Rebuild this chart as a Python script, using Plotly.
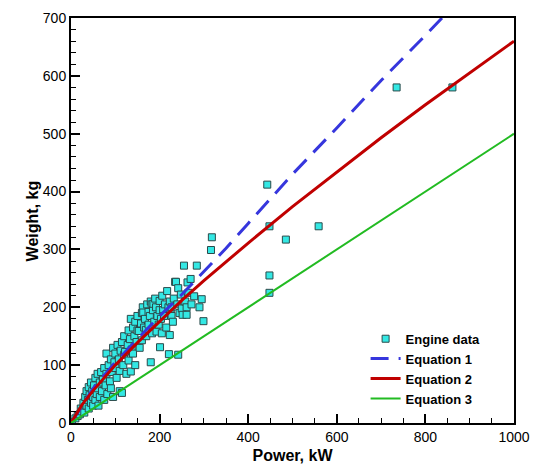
import plotly.graph_objects as go

# Engine data (Power kW, Weight kg)
power = [2, 10, 15, 20, 22, 25, 28, 30, 32, 35, 35, 38, 40, 40, 42, 45, 45, 48, 50, 50,
         52, 55, 55, 58, 60, 60, 62, 65, 65, 68, 70, 72, 75, 75, 78, 80, 80, 82, 85, 88,
         90, 90, 92, 95, 95, 98, 100, 100, 103, 105, 108, 110, 110, 112, 115, 115, 118, 120, 120, 122,
         125, 128, 130, 130, 133, 135, 135, 137, 140, 140, 143, 145, 145, 148, 150, 150, 153, 155, 158, 160,
         160, 162, 163, 165, 167, 169, 170, 172, 175, 175, 178, 180, 180, 182, 183, 185, 186, 188, 190, 192,
         193, 195, 198, 200, 200, 201, 203, 205, 206, 208, 210, 212, 215, 217, 220, 221, 223, 223, 225, 227,
         227, 230, 232, 235, 237, 240, 242, 242, 245, 248, 250, 252, 255, 258, 261, 261, 263, 265, 270, 272,
         278, 284, 290, 295, 299, 316, 318,
         443, 448, 448, 448, 485, 559, 735, 861]
weight = [2, 8, 12, 15, 25, 20, 35, 18, 45, 30, 55, 40, 25, 62, 48, 35, 70, 55, 30, 45,
          65, 78, 40, 50, 60, 85, 30, 70, 45, 88, 55, 75, 95, 40, 65, 120, 85, 50, 100, 72,
          110, 60, 88, 130, 45, 105, 95, 120, 78, 135, 110, 55, 90, 125, 140, 52, 100, 150, 118, 123,
          85, 135, 160, 108, 145, 180, 89, 127, 165, 120, 150, 175, 100, 140, 160, 185, 159, 130, 172, 143,
          190, 200, 191, 165, 180, 161, 150, 205, 192, 170, 185, 105, 210, 205, 155, 195, 206, 175, 215, 200,
          158, 185, 170, 211, 195, 131, 180, 155, 220, 195, 185, 205, 165, 228, 200, 119, 210, 152, 190, 200,
          185, 175, 215, 244, 244, 205, 233, 118, 190, 222, 198, 187, 272, 210, 200, 187, 243, 225, 249, 205,
          219, 272, 200, 214, 176, 299, 321,
          412, 340, 255, 225, 317, 340, 580, 580]

# Equation curves
eq1_power = [0, 50, 100, 150, 200, 250, 300, 350, 400, 450, 500, 600, 700, 800, 850]
eq1_weight = [0, 60, 105, 145, 185, 222, 262, 302, 345, 388, 430, 510, 592, 670, 710]
eq2_power = [0, 25, 50, 100, 150, 200, 250, 300, 400, 500, 600, 700, 800, 900, 1000]
eq2_weight = [0, 32, 56, 100, 139, 176, 212, 246, 311, 374, 434, 493, 550, 605, 660]
eq3_power = [0, 1000]
eq3_weight = [0, 500]

x_ticks = [0, 200, 400, 600, 800, 1000]
y_ticks = [0, 100, 200, 300, 400, 500, 600, 700]

fig = go.Figure()
fig.add_trace(go.Scatter(x=power, y=weight, mode="markers", name="Engine data",
                         marker=dict(symbol="square", size=7, color="#33E8E4",
                                     line=dict(color="#2B4A4A", width=1))))
fig.add_trace(go.Scatter(x=eq1_power, y=eq1_weight, mode="lines", name="Equation 1",
                         line=dict(color="#3636DD", width=3, dash="18px,10px")))
fig.add_trace(go.Scatter(x=eq2_power, y=eq2_weight, mode="lines", name="Equation 2",
                         line=dict(color="#C00000", width=3)))
fig.add_trace(go.Scatter(x=eq3_power, y=eq3_weight, mode="lines", name="Equation 3",
                         line=dict(color="#22BB22", width=2)))

axis_font = dict(family="Liberation Sans, Arial", size=14, color="black")
title_font = dict(family="Liberation Sans, Arial", size=16, color="black", weight="bold")

fig.update_layout(
    width=533, height=464,
    margin=dict(l=71, r=19, t=18, b=41),
    plot_bgcolor="white", paper_bgcolor="white",
    showlegend=True,
    legend=dict(x=0.665, y=0.245, xanchor="left", yanchor="top",
                bgcolor="rgba(0,0,0,0)", tracegroupgap=0,
                font=dict(family="Liberation Sans, Arial", size=13, color="black", weight="bold")),
    xaxis=dict(range=[0, 1000], tickvals=x_ticks, ticks="inside", ticklen=9, tickwidth=2,
               tickcolor="black", showline=True, linecolor="black", linewidth=2, mirror=True,
               showgrid=False, zeroline=False, tickfont=axis_font, automargin=False,
               minor=dict(ticks="inside", ticklen=5, tickwidth=1, tickcolor="black", dtick=50, showgrid=False),
               title=dict(text="Power, kW", font=title_font, standoff=8)),
    yaxis=dict(range=[0, 700], tickvals=y_ticks, ticks="inside", ticklen=9, tickwidth=2,
               tickcolor="black", showline=True, linecolor="black", linewidth=2, mirror=True,
               showgrid=False, zeroline=False, tickfont=axis_font, automargin=False,
               minor=dict(ticks="inside", ticklen=5, tickwidth=1, tickcolor="black", dtick=20, showgrid=False)),
    annotations=[dict(text="Weight, kg", textangle=-90, xref="paper", yref="paper",
                      x=-0.086, y=0.5, xanchor="center", yanchor="middle", showarrow=False,
                      font=title_font)],
)

fig.write_html("out.html")
